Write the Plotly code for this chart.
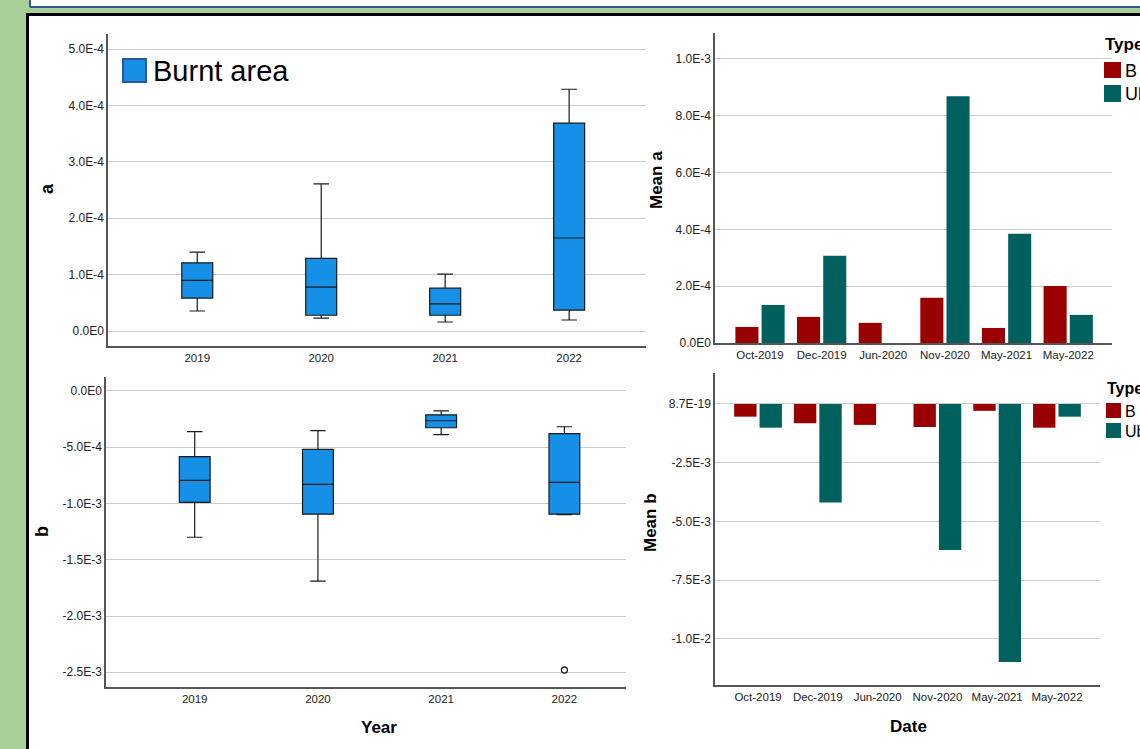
import plotly.graph_objects as go

# ---- data -------------------------------------------------------------
years = ["2019", "2020", "2021", "2022"]

# box statistics for variable a (Burnt area)
a_low = [0.355e-4, 0.23e-4, 0.16e-4, 0.195e-4]
a_q1 = [0.585e-4, 0.28e-4, 0.28e-4, 0.37e-4]
a_med = [0.90e-4, 0.78e-4, 0.48e-4, 1.65e-4]
a_q3 = [1.21e-4, 1.29e-4, 0.76e-4, 3.69e-4]
a_high = [1.40e-4, 2.61e-4, 1.01e-4, 4.29e-4]

# box statistics for variable b (Burnt area)
b_low = [-1.30e-3, -1.69e-3, -0.389e-3, -1.10e-3]
b_q1 = [-0.99e-3, -1.095e-3, -0.327e-3, -1.095e-3]
b_med = [-0.795e-3, -0.83e-3, -0.265e-3, -0.813e-3]
b_q3 = [-0.583e-3, -0.52e-3, -0.212e-3, -0.38e-3]
b_high = [-0.362e-3, -0.353e-3, -0.177e-3, -0.318e-3]
b_outlier_year = ["2022"]
b_outlier_val = [-2.48e-3]

dates = ["Oct-2019", "Dec-2019", "Jun-2020", "Nov-2020", "May-2021", "May-2022"]
mean_a_B = [5.65e-5, 9.2e-5, 7.1e-5, 1.59e-4, 5.3e-5, 2.01e-4]
mean_a_Ub = [1.34e-4, 3.07e-4, None, 8.69e-4, 3.85e-4, 9.9e-5]
mean_b_B = [-0.54e-3, -0.82e-3, -0.89e-3, -0.98e-3, -0.29e-3, -1.01e-3]
mean_b_Ub = [-1.01e-3, -4.20e-3, None, -6.22e-3, -10.99e-3, -0.54e-3]

a_ticks = [0, 1e-4, 2e-4, 3e-4, 4e-4, 5e-4]
a_ticktext = ["0.0E0", "1.0E-4", "2.0E-4", "3.0E-4", "4.0E-4", "5.0E-4"]
b_ticks = [0, -5e-4, -1e-3, -1.5e-3, -2e-3, -2.5e-3]
b_ticktext = ["0.0E0", "-5.0E-4", "-1.0E-3", "-1.5E-3", "-2.0E-3", "-2.5E-3"]
ma_ticks = [0, 2e-4, 4e-4, 6e-4, 8e-4, 1e-3]
ma_ticktext = ["0.0E0", "2.0E-4", "4.0E-4", "6.0E-4", "8.0E-4", "1.0E-3"]
mb_ticks = [0, -2.5e-3, -5e-3, -7.5e-3, -1e-2]
mb_ticktext = ["8.7E-19", "-2.5E-3", "-5.0E-3", "-7.5E-3", "-1.0E-2"]

# ---- styling ----------------------------------------------------------
W, H = 1140, 749
FONT = "Liberation Sans, Arial, sans-serif"
BOX_BLUE = "#1590e6"
RED = "#990000"
TEAL = "#00605e"
GRID = "#cccccc"
AXIS = "#555555"


def px(x):
    return x / W


def py(y):
    return 1 - y / H


fig = go.Figure()

box_style = dict(
    fillcolor=BOX_BLUE,
    line=dict(color="#1a1a1a", width=1.2),
    width=0.25,
    whiskerwidth=0.5,
    boxpoints=False,
    showlegend=False,
    hoverinfo="skip",
)

fig.add_trace(go.Box(
    x=years, q1=a_q1, median=a_med, q3=a_q3,
    lowerfence=a_low, upperfence=a_high,
    xaxis="x", yaxis="y", **box_style,
))
fig.add_trace(go.Box(
    x=years, q1=b_q1, median=b_med, q3=b_q3,
    lowerfence=b_low, upperfence=b_high,
    xaxis="x3", yaxis="y3", **box_style,
))
fig.add_trace(go.Scatter(
    x=b_outlier_year, y=b_outlier_val, mode="markers",
    marker=dict(symbol="circle-open", size=6, color="#222222",
                line=dict(width=1.3, color="#222222")),
    xaxis="x3", yaxis="y3", showlegend=False, hoverinfo="skip",
))

for vals, col, ax in [
    (mean_a_B, RED, ("x2", "y2")),
    (mean_a_Ub, TEAL, ("x2", "y2")),
    (mean_b_B, RED, ("x4", "y4")),
    (mean_b_Ub, TEAL, ("x4", "y4")),
]:
    fig.add_trace(go.Bar(
        x=dates, y=vals, marker=dict(color=col, line=dict(width=0)),
        xaxis=ax[0], yaxis=ax[1], showlegend=False, hoverinfo="skip",
    ))

tickfont_y = dict(family=FONT, size=12, color="#222222")
tickfont_x = dict(family=FONT, size=11.5, color="#222222")


def xaxis_cfg(x0, x1, rng, anchor):
    return dict(
        domain=[px(x0), px(x1)], type="category", range=rng, anchor=anchor,
        showgrid=False, zeroline=False, showline=True, linecolor=AXIS,
        linewidth=1.5, ticks="", tickfont=tickfont_x, fixedrange=True,
        automargin=False,
    )


def yaxis_cfg(y_top, y_bot, rng, anchor, tv, tt):
    return dict(
        domain=[py(y_bot), py(y_top)], range=rng, anchor=anchor,
        tickvals=tv, ticktext=tt, showgrid=True, gridcolor=GRID,
        gridwidth=1, zeroline=False, showline=True, linecolor=AXIS,
        linewidth=1.5, ticks="", tickfont=tickfont_y, fixedrange=True,
        automargin=False,
    )


fig.update_layout(
    width=W, height=H, autosize=False,
    margin=dict(l=0, r=0, t=0, b=0, pad=0, autoexpand=False),
    paper_bgcolor="#a9cf97",
    plot_bgcolor="rgba(0,0,0,0)",
    font=dict(family=FONT),
    barmode="group", bargap=0.15, bargroupgap=0.12,
    showlegend=False,
    xaxis=xaxis_cfg(108, 646, [-0.72, 3.62], "y"),
    yaxis=yaxis_cfg(34, 346, [-0.266e-4, 5.27e-4], "x", a_ticks, a_ticktext),
    xaxis2=xaxis_cfg(715, 1112, [-0.73, 5.71], "y2"),
    yaxis2=yaxis_cfg(33, 343, [0, 1.0915e-3], "x2", ma_ticks, ma_ticktext),
    xaxis3=xaxis_cfg(106, 626, [-0.72, 3.5], "y3"),
    yaxis3=yaxis_cfg(377, 687, [-2.631e-3, 0.124e-3], "x3", b_ticks, b_ticktext),
    xaxis4=xaxis_cfg(715, 1100, [-0.72, 5.72], "y4"),
    yaxis4=yaxis_cfg(373, 685, [-11.97e-3, 1.32e-3], "x4", mb_ticks, mb_ticktext),
)


def rect(x0, y0, x1, y1, fill, line_col=None, lw=0, layer="above"):
    return dict(type="rect", xref="paper", yref="paper", layer=layer,
                x0=px(x0), x1=px(x1), y0=py(y1), y1=py(y0),
                fillcolor=fill,
                line=dict(color=line_col or fill, width=lw))


def seg(x0, y0, x1, y1, col, lw, layer="below"):
    return dict(type="line", xref="paper", yref="paper", layer=layer,
                x0=px(x0), x1=px(x1), y0=py(y0), y1=py(y1),
                line=dict(color=col, width=lw))


shapes = [
    # top strip box (white, blue frame on left and bottom)
    rect(31, 0, W, 6, "white", lw=0, layer="below"),
    seg(30, 0, 30, 7, "#2f5597", 2),
    seg(30, 7, W, 7, "#2f5597", 2),
    # main white panel with black frame
    rect(29, 16, W, H, "white", lw=0, layer="below"),
    seg(27.5, 13, 27.5, H, "black", 3),
    seg(26, 14.5, W, 14.5, "black", 3),
    # Burnt area legend swatch
    rect(123, 59, 146, 82, BOX_BLUE, "#2e5597", 2),
    # Type legend swatches (top right)
    rect(1104, 62, 1121, 78, RED),
    rect(1104, 85, 1121, 102, TEAL),
    # Type legend swatches (bottom right)
    rect(1106, 403, 1121, 418, RED),
    rect(1106, 423, 1121, 438, TEAL),
]
fig.update_layout(shapes=shapes)


def ann(text, x, y, size, bold=False, angle=0, xanchor="center"):
    return dict(
        text=f"<b>{text}</b>" if bold else text,
        x=px(x), y=py(y), xref="paper", yref="paper",
        xanchor=xanchor, yanchor="middle", showarrow=False,
        textangle=angle, font=dict(family=FONT, size=size, color="black"),
    )


annotations = [
    ann("a", 47, 189, 18, bold=True, angle=-90),
    ann("b", 42, 531, 18, bold=True, angle=-90),
    ann("Mean a", 656, 180, 17, bold=True, angle=-90),
    ann("Mean b", 650, 523, 17, bold=True, angle=-90),
    ann("Year", 379, 727, 17, bold=True),
    ann("Date", 908, 726, 17, bold=True),
    ann("Burnt area", 151, 71, 29, xanchor="left"),
    ann("Type", 1103, 44, 17, bold=True, xanchor="left"),
    ann("B", 1123, 71, 18, xanchor="left"),
    ann("Ub", 1123, 94, 18, xanchor="left"),
    ann("Type", 1105, 388, 16, bold=True, xanchor="left"),
    ann("B", 1123, 411, 16, xanchor="left"),
    ann("Ub", 1123, 431, 16, xanchor="left"),
]
fig.update_layout(annotations=annotations)

fig.write_html("out.html", config={"displayModeBar": False})
